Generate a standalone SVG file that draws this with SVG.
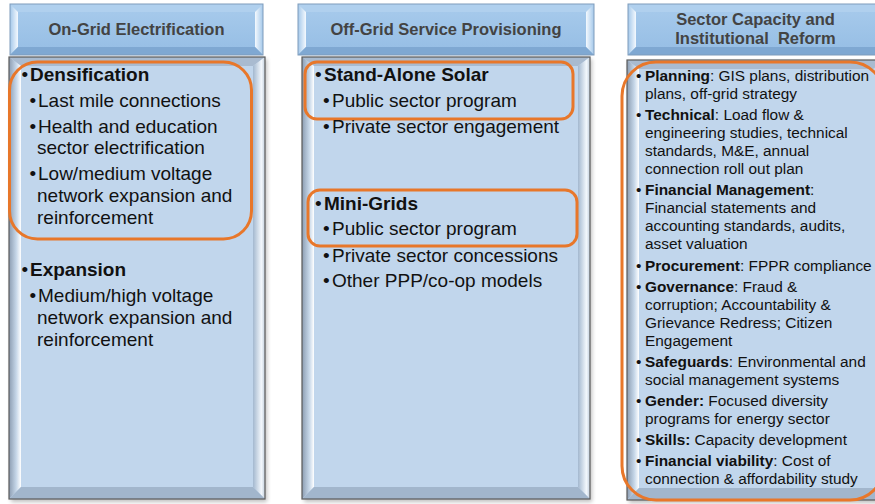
<svg xmlns="http://www.w3.org/2000/svg" width="875" height="504" viewBox="0 0 875 504">
<defs>
  <linearGradient id="hdrFill" x1="0" y1="0" x2="0" y2="1">
    <stop offset="0" stop-color="#A8CBEC"/>
    <stop offset="1" stop-color="#95BDE4"/>
  </linearGradient>
  <linearGradient id="hdrLeft" x1="0" y1="0" x2="1" y2="0">
    <stop offset="0" stop-color="#A4C8EA"/>
    <stop offset="1" stop-color="#F4F9FE"/>
  </linearGradient>
  <linearGradient id="hdrRight" x1="0" y1="0" x2="1" y2="0">
    <stop offset="0" stop-color="#F4F9FE"/>
    <stop offset="1" stop-color="#A4C8EA"/>
  </linearGradient>
  <linearGradient id="bodyLeft" x1="0" y1="0" x2="1" y2="0">
    <stop offset="0" stop-color="#8C9DB2"/>
    <stop offset="0.6" stop-color="#C5D6E8"/>
    <stop offset="1" stop-color="#FFFFFF"/>
  </linearGradient>
  <linearGradient id="bodyRight" x1="0" y1="0" x2="1" y2="0">
    <stop offset="0" stop-color="#A3B8CF"/>
    <stop offset="0.7" stop-color="#F2F7FC"/>
    <stop offset="1" stop-color="#C3D0DE"/>
  </linearGradient>
  <filter id="shadow" x="-10%" y="-10%" width="120%" height="120%">
    <feGaussianBlur stdDeviation="2"/>
  </filter>
</defs>
<style>
  .hdrTop{fill:#B0D0EE}
  .hdrBot{fill:#7FA8D2}
  .hdrEdge{fill:none;stroke:#7E9CBC;stroke-width:1}
  .bodyFill{fill:#C1D6EC}
  .bodyTop{fill:#A9BBD0}
  .bodyBot{fill:#A2B6CC}
  .bodyEdge{fill:none;stroke:#5B5B5B;stroke-width:1.2}
  .shd{fill:#000;opacity:0.25}
  .hl{fill:none;stroke:#E8772A;stroke-width:3}
  .h{font-family:"Liberation Sans",Arial,sans-serif;font-weight:bold;font-size:16.5px;fill:#434343;text-anchor:middle}
  .t{font-family:"Liberation Sans",Arial,sans-serif;font-size:19px;fill:#111}
  .s{font-family:"Liberation Sans",Arial,sans-serif;font-size:15.4px;fill:#111}
  .b{font-weight:bold}
</style>

<!-- Column 1 -->
<g id="col-on-grid">
  <rect class="shd" x="11" y="59" width="256" height="443" filter="url(#shadow)"/>
  <rect class="bodyFill" x="9" y="57" width="256" height="442"/>
  <polygon class="bodyTop" points="9,57 265,57 253,66 21,66"/>
  <polygon fill="url(#bodyLeft)" points="9,57 21,66 21,487 9,499"/>
  <polygon fill="url(#bodyRight)" points="265,57 265,499 253,487 253,66"/>
  <polygon class="bodyBot" points="9,499 265,499 253,487 21,487"/>
  <rect class="bodyEdge" x="9" y="57" width="256" height="442"/>

  <rect fill="url(#hdrFill)" x="10" y="4" width="253" height="51"/>
  <polygon class="hdrTop" points="10,4 263,4 255,12 18,12"/>
  <polygon fill="url(#hdrLeft)" points="10,4 18,12 18,47 10,55"/>
  <polygon fill="url(#hdrRight)" points="263,4 263,55 255,47 255,12"/>
  <polygon class="hdrBot" points="10,55 263,55 255,47 18,47"/>
  <rect class="hdrEdge" x="10" y="4" width="253" height="51"/>
  <text class="h" x="136.5" y="35">On-Grid Electrification</text>

  <rect class="hl" x="9.5" y="62" width="242" height="177" rx="28"/>
  <text class="t"><tspan x="21.5" y="81">•</tspan><tspan class="b" x="30" y="81">Densification</tspan></text>
  <text class="t"><tspan x="29.5" y="107">•</tspan><tspan x="38" y="107">Last mile connections</tspan></text>
  <text class="t"><tspan x="29.5" y="133">•</tspan><tspan x="38" y="133">Health and education</tspan><tspan x="37" y="154">sector electrification</tspan></text>
  <text class="t"><tspan x="29.5" y="180">•</tspan><tspan x="38" y="180">Low/medium voltage</tspan><tspan x="37" y="202">network expansion and</tspan><tspan x="37" y="224">reinforcement</tspan></text>
  <text class="t"><tspan x="21.5" y="276">•</tspan><tspan class="b" x="30" y="276">Expansion</tspan></text>
  <text class="t"><tspan x="29.5" y="302">•</tspan><tspan x="38" y="302">Medium/high voltage</tspan><tspan x="37" y="324">network expansion and</tspan><tspan x="37" y="346">reinforcement</tspan></text>
</g>

<!-- Column 2 -->
<g id="col-off-grid">
  <rect class="shd" x="304" y="59" width="288" height="443" filter="url(#shadow)"/>
  <rect class="bodyFill" x="302" y="57" width="288" height="442"/>
  <polygon class="bodyTop" points="302,57 590,57 578,66 314,66"/>
  <polygon fill="url(#bodyLeft)" points="302,57 314,66 314,487 302,499"/>
  <polygon fill="url(#bodyRight)" points="590,57 590,499 578,487 578,66"/>
  <polygon class="bodyBot" points="302,499 590,499 578,487 314,487"/>
  <rect class="bodyEdge" x="302" y="57" width="288" height="442"/>

  <rect fill="url(#hdrFill)" x="298" y="4" width="296" height="51"/>
  <polygon class="hdrTop" points="298,4 594,4 586,12 306,12"/>
  <polygon fill="url(#hdrLeft)" points="298,4 306,12 306,47 298,55"/>
  <polygon fill="url(#hdrRight)" points="594,4 594,55 586,47 586,12"/>
  <polygon class="hdrBot" points="298,55 594,55 586,47 306,47"/>
  <rect class="hdrEdge" x="298" y="4" width="296" height="51"/>
  <text class="h" x="446" y="35">Off-Grid Service Provisioning</text>

  <rect class="hl" x="305" y="62" width="268" height="57" rx="12"/>
  <rect class="hl" x="308" y="190" width="269" height="56" rx="12"/>
  <text class="t"><tspan x="315" y="81">•</tspan><tspan class="b" x="324" y="81">Stand-Alone Solar</tspan></text>
  <text class="t"><tspan x="323" y="107">•</tspan><tspan x="332" y="107">Public sector program</tspan></text>
  <text class="t"><tspan x="323" y="133">•</tspan><tspan x="332" y="133">Private sector engagement</tspan></text>
  <text class="t"><tspan x="315" y="210">•</tspan><tspan class="b" x="324" y="210">Mini-Grids</tspan></text>
  <text class="t"><tspan x="323" y="235">•</tspan><tspan x="332" y="235">Public sector program</tspan></text>
  <text class="t"><tspan x="323" y="262">•</tspan><tspan x="332" y="262">Private sector concessions</tspan></text>
  <text class="t"><tspan x="323" y="287">•</tspan><tspan x="332" y="287">Other PPP/co-op models</tspan></text>
</g>

<!-- Column 3 -->
<g id="col-capacity">
  <rect class="shd" x="629" y="62" width="258" height="441" filter="url(#shadow)"/>
  <rect class="bodyFill" x="627" y="60" width="258" height="440"/>
  <polygon class="bodyTop" points="627,60 885,60 873,69 639,69"/>
  <polygon fill="url(#bodyLeft)" points="627,60 639,69 639,488 627,500"/>
  <polygon class="bodyBot" points="627,500 885,500 873,488 639,488"/>
  <rect class="bodyEdge" x="627" y="60" width="258" height="440"/>

  <rect fill="url(#hdrFill)" x="628" y="4" width="256" height="51"/>
  <polygon class="hdrTop" points="628,4 884,4 876,12 636,12"/>
  <polygon fill="url(#hdrLeft)" points="628,4 636,12 636,47 628,55"/>
  <polygon class="hdrBot" points="628,55 884,55 876,47 636,47"/>
  <rect class="hdrEdge" x="628" y="4" width="256" height="51"/>
  <text class="h" style="white-space:pre"><tspan x="755.5" y="25">Sector Capacity and</tspan><tspan x="755.5" y="44">Institutional  Reform</tspan></text>

  <rect class="hl" x="622" y="62" width="262" height="438" rx="34"/>
  <text class="s"><tspan x="636" y="81">•</tspan><tspan class="b" x="645" y="81">Planning</tspan><tspan>: GIS plans, distribution</tspan><tspan x="645" y="99">plans, off-grid strategy</tspan></text>
  <text class="s"><tspan x="636" y="120">•</tspan><tspan class="b" x="645" y="120">Technical</tspan><tspan>: Load flow &amp;</tspan><tspan x="645" y="138">engineering studies, technical</tspan><tspan x="645" y="156">standards, M&amp;E, annual</tspan><tspan x="645" y="174">connection roll out plan</tspan></text>
  <text class="s"><tspan x="636" y="195">•</tspan><tspan class="b" x="645" y="195">Financial Management</tspan><tspan>:</tspan><tspan x="645" y="213">Financial statements and</tspan><tspan x="645" y="231">accounting standards, audits,</tspan><tspan x="645" y="249">asset valuation</tspan></text>
  <text class="s"><tspan x="636" y="271">•</tspan><tspan class="b" x="645" y="271">Procurement</tspan><tspan>: FPPR compliance</tspan></text>
  <text class="s"><tspan x="636" y="292">•</tspan><tspan class="b" x="645" y="292">Governance</tspan><tspan>: Fraud &amp;</tspan><tspan x="645" y="310">corruption; Accountability &amp;</tspan><tspan x="645" y="328">Grievance Redress; Citizen</tspan><tspan x="645" y="346">Engagement</tspan></text>
  <text class="s"><tspan x="636" y="367">•</tspan><tspan class="b" x="645" y="367">Safeguards</tspan><tspan>: Environmental and</tspan><tspan x="645" y="385">social management systems</tspan></text>
  <text class="s"><tspan x="636" y="406">•</tspan><tspan class="b" x="645" y="406">Gender:</tspan><tspan> Focused diversity</tspan><tspan x="645" y="424">programs for energy sector</tspan></text>
  <text class="s"><tspan x="636" y="445">•</tspan><tspan class="b" x="645" y="445">Skills:</tspan><tspan> Capacity development</tspan></text>
  <text class="s"><tspan x="636" y="466">•</tspan><tspan class="b" x="645" y="466">Financial viability</tspan><tspan>: Cost of</tspan><tspan x="645" y="484">connection &amp; affordability study</tspan></text>
</g>

<g id="connectors"></g>
</svg>
